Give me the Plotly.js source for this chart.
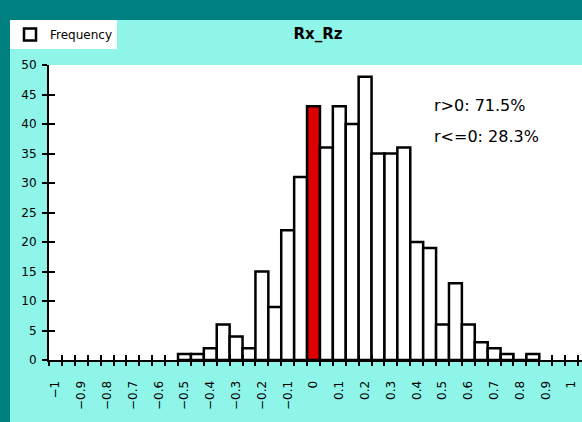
<!DOCTYPE html>
<html>
<head>
<meta charset="utf-8">
<script src="https://cdn.plot.ly/plotly-3.0.1.min.js"></script>
<style>
  html, body { margin: 0; padding: 0; background: #008080; width: 582px; height: 422px; overflow: hidden; }
  #chart { position: absolute; left: 10px; top: 20px; width: 572px; height: 402px; }
</style>
</head>
<body>
<div id="chart"></div>
<script>
// ---- data ----
const binCenters = [-0.5, -0.45, -0.4, -0.35, -0.3, -0.25, -0.2, -0.15, -0.1, -0.05,
                    0, 0.05, 0.1, 0.15, 0.2, 0.25, 0.3, 0.35, 0.4, 0.45,
                    0.5, 0.55, 0.6, 0.65, 0.7, 0.75, 0.8, 0.85];
const frequency = [1, 1, 2, 6, 4, 2, 15, 9, 22, 31,
                   43, 36, 43, 40, 48, 35, 35, 36, 20, 19,
                   6, 13, 6, 3, 2, 1, 0, 1];
const highlightBin = 0;
const xTickVals = [-1, -0.9, -0.8, -0.7, -0.6, -0.5, -0.4, -0.3, -0.2, -0.1,
                   0, 0.1, 0.2, 0.3, 0.4, 0.5, 0.6, 0.7, 0.8, 0.9, 1];
const xTickText = ['\u22121', '\u22120.9', '\u22120.8', '\u22120.7', '\u22120.6', '\u22120.5',
                   '\u22120.4', '\u22120.3', '\u22120.2', '\u22120.1',
                   '0', '0.1', '0.2', '0.3', '0.4', '0.5', '0.6', '0.7', '0.8', '0.9', '1'];
const yTickVals = [0, 5, 10, 15, 20, 25, 30, 35, 40, 45, 50];
const seriesName = 'Frequency';
const chartTitle = 'Rx_Rz';
const statLines = ['r>0: 71.5%', 'r<=0: 28.3%'];

// ---- styling ----
const FONT = 'DejaVu Sans, Verdana, sans-serif';
const CYAN = 'rgb(143,245,233)';
const RED = '#dd0000';
const xRange = [-1.025, 1.0405];
const yRange = [0, 50];

const barColors = binCenters.map(c => (c === highlightBin ? RED : '#ffffff'));

const traces = [
  {
    type: 'bar',
    name: seriesName,
    x: binCenters,
    y: frequency,
    width: 0.05,
    marker: { color: barColors, line: { color: '#000000', width: 2.5 } },
    showlegend: true,
    hoverinfo: 'x+y'
  },
  // empty helpers so that the overlay axes (tick crosses) are drawn
  { type: 'scatter', x: [], y: [], xaxis: 'x2', yaxis: 'y2', showlegend: false, hoverinfo: 'skip' },
  { type: 'scatter', x: [], y: [], xaxis: 'x3', yaxis: 'y2', showlegend: false, hoverinfo: 'skip' }
];

const layout = {
  width: 572,
  height: 402,
  paper_bgcolor: CYAN,
  plot_bgcolor: '#ffffff',
  margin: { l: 39, r: 0, t: 45, b: 62, autoexpand: false },
  bargap: 0,
  showlegend: true,
  font: { family: FONT, color: '#000000', size: 12 },
  title: {
    text: chartTitle,
    font: { family: FONT, size: 15, weight: 700, color: '#000000' },
    x: 0.5385, xref: 'container', xanchor: 'center',
    y: 0.965, yref: 'container', yanchor: 'middle'
  },
  legend: {
    xref: 'container', yref: 'container',
    x: 0, y: 1, xanchor: 'left', yanchor: 'top',
    bgcolor: '#ffffff', borderwidth: 0,
    font: { family: FONT, size: 12, color: '#000000' },
    itemwidth: 30
  },
  xaxis: {
    range: xRange,
    tickmode: 'array',
    tickvals: xTickVals,
    ticktext: xTickText,
    tickangle: -90,
    ticks: '',
    ticklabelstandoff: 14,
    tickfont: { family: FONT, size: 12, color: '#000000' },
    showline: true, linecolor: '#000000', linewidth: 2,
    showgrid: false, zeroline: false, fixedrange: true
  },
  xaxis2: {
    range: xRange, overlaying: 'x', anchor: 'y2', side: 'bottom',
    tickmode: 'linear', tick0: -1.025, dtick: 0.05,
    ticks: 'outside', ticklen: 5, tickwidth: 2, tickcolor: '#000000',
    showticklabels: false, showline: false, showgrid: false, zeroline: false
  },
  xaxis3: {
    range: xRange, overlaying: 'x', anchor: 'y2', side: 'bottom',
    tickmode: 'linear', tick0: -1.025, dtick: 0.05,
    ticks: 'inside', ticklen: 5, tickwidth: 2, tickcolor: '#000000',
    showticklabels: false, showline: false, showgrid: false, zeroline: false
  },
  yaxis: {
    range: yRange,
    tickmode: 'array',
    tickvals: yTickVals,
    ticks: 'outside', ticklen: 5, tickwidth: 2, tickcolor: '#000000',
    ticklabelstandoff: 3,
    tickfont: { family: FONT, size: 12, color: '#000000' },
    showline: true, linecolor: '#000000', linewidth: 2,
    showgrid: false, zeroline: false, fixedrange: true
  },
  yaxis2: {
    range: yRange, overlaying: 'y', anchor: 'x2', side: 'left',
    tickmode: 'array', tickvals: yTickVals,
    ticks: 'inside', ticklen: 6, tickwidth: 2, tickcolor: '#000000',
    showticklabels: false, showline: false, showgrid: false, zeroline: false
  },
  annotations: [
    { text: statLines[0], xref: 'paper', yref: 'paper', x: 0.7186, y: 0.864,
      xanchor: 'left', yanchor: 'middle', showarrow: false,
      font: { family: FONT, size: 16, color: '#000000' } },
    { text: statLines[1], xref: 'paper', yref: 'paper', x: 0.7186, y: 0.756,
      xanchor: 'left', yanchor: 'middle', showarrow: false,
      font: { family: FONT, size: 16, color: '#000000' } }
  ]
};

Plotly.newPlot('chart', traces, layout, { displayModeBar: false, staticPlot: true });
</script>
</body>
</html>
